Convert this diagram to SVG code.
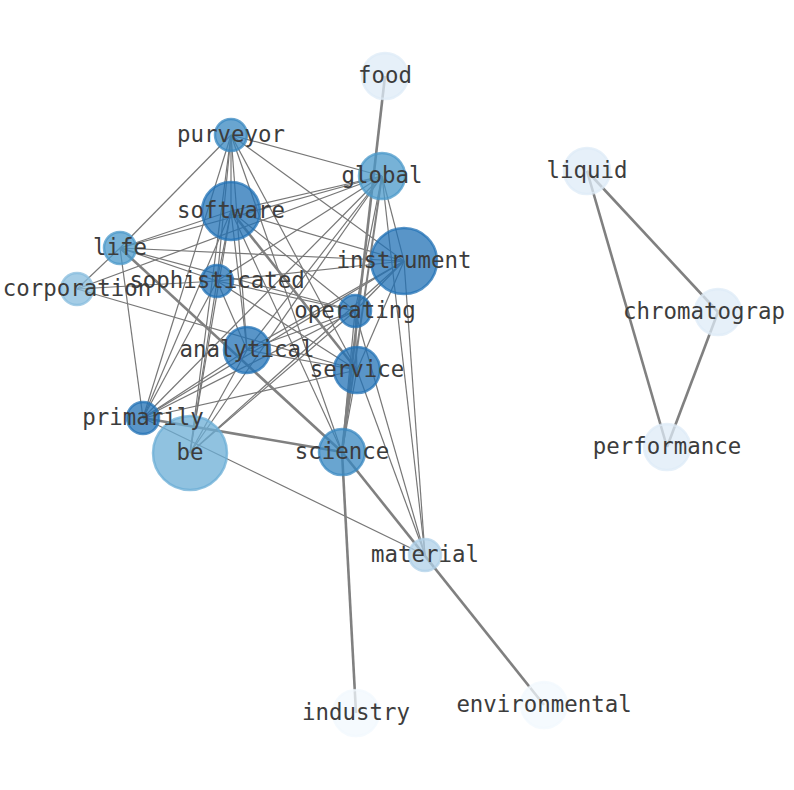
<svg xmlns="http://www.w3.org/2000/svg" width="794" height="790" viewBox="0 0 794 790">
<style>
.e{stroke:#777;stroke-width:1.2;fill:none}
.t{stroke:#808080;stroke-width:2.6;fill:none}
.n{fill-opacity:0.75;stroke-opacity:0.75;stroke-width:2.5}
.d{fill:#2171b5;stroke:#2171b5}
.m{fill:#3787c0;stroke:#3787c0}
.g{fill:#4a98c9;stroke:#4a98c9}
.b{fill:#6baed6;stroke:#6baed6}
.c{fill:#87bcdd;stroke:#87bcdd}
.mt{fill:#afd0e8;stroke:#afd0e8}
.l{fill:#deebf7;stroke:#deebf7}
.v{fill:#f2f8fd;stroke:#f2f8fd}
text{font-family:"DejaVu Sans Mono","Liberation Mono",monospace;font-size:22.4px;fill:#3c3c3c;text-anchor:middle}
</style>
<rect width="794" height="790" fill="#fff"/>
<g id="connectors">
<line class="e" x1="231" y1="135" x2="382" y2="176"/>
<line class="e" x1="231" y1="135" x2="404" y2="261"/>
<line class="e" x1="231" y1="135" x2="120" y2="248"/>
<line class="e" x1="231" y1="135" x2="231" y2="211"/>
<line class="e" x1="231" y1="135" x2="217" y2="281"/>
<line class="e" x1="231" y1="135" x2="247" y2="350"/>
<line class="e" x1="231" y1="135" x2="190" y2="453"/>
<line class="e" x1="231" y1="135" x2="143" y2="418"/>
<line class="e" x1="231" y1="135" x2="357" y2="370"/>
<line class="e" x1="231" y1="135" x2="342" y2="452"/>
<line class="e" x1="382" y1="176" x2="120" y2="248"/>
<line class="e" x1="382" y1="176" x2="231" y2="211"/>
<line class="e" x1="382" y1="176" x2="77" y2="289"/>
<line class="e" x1="382" y1="176" x2="404" y2="261"/>
<line class="e" x1="382" y1="176" x2="217" y2="281"/>
<line class="e" x1="382" y1="176" x2="247" y2="350"/>
<line class="e" x1="382" y1="176" x2="143" y2="418"/>
<line class="e" x1="382" y1="176" x2="190" y2="453"/>
<line class="e" x1="382" y1="176" x2="355" y2="311"/>
<line class="e" x1="382" y1="176" x2="425" y2="555"/>
<line class="e" x1="231" y1="211" x2="120" y2="248"/>
<line class="e" x1="231" y1="211" x2="404" y2="261"/>
<line class="e" x1="231" y1="211" x2="217" y2="281"/>
<line class="e" x1="231" y1="211" x2="247" y2="350"/>
<line class="e" x1="231" y1="211" x2="143" y2="418"/>
<line class="e" x1="231" y1="211" x2="190" y2="453"/>
<line class="e" x1="231" y1="211" x2="355" y2="311"/>
<line class="e" x1="231" y1="211" x2="342" y2="452"/>
<line class="e" x1="120" y1="248" x2="404" y2="261"/>
<line class="e" x1="120" y1="248" x2="77" y2="289"/>
<line class="e" x1="120" y1="248" x2="217" y2="281"/>
<line class="e" x1="120" y1="248" x2="355" y2="311"/>
<line class="e" x1="120" y1="248" x2="143" y2="418"/>
<line class="e" x1="77" y1="289" x2="217" y2="281"/>
<line class="e" x1="77" y1="289" x2="357" y2="370"/>
<line class="e" x1="404" y1="261" x2="217" y2="281"/>
<line class="e" x1="404" y1="261" x2="355" y2="311"/>
<line class="e" x1="404" y1="261" x2="247" y2="350"/>
<line class="e" x1="404" y1="261" x2="143" y2="418"/>
<line class="e" x1="404" y1="261" x2="190" y2="453"/>
<line class="e" x1="404" y1="261" x2="357" y2="370"/>
<line class="e" x1="404" y1="261" x2="425" y2="555"/>
<line class="e" x1="217" y1="281" x2="355" y2="311"/>
<line class="e" x1="217" y1="281" x2="247" y2="350"/>
<line class="e" x1="217" y1="281" x2="143" y2="418"/>
<line class="e" x1="217" y1="281" x2="190" y2="453"/>
<line class="e" x1="217" y1="281" x2="357" y2="370"/>
<line class="e" x1="355" y1="311" x2="247" y2="350"/>
<line class="e" x1="355" y1="311" x2="143" y2="418"/>
<line class="e" x1="355" y1="311" x2="190" y2="453"/>
<line class="e" x1="355" y1="311" x2="357" y2="370"/>
<line class="e" x1="355" y1="311" x2="425" y2="555"/>
<line class="e" x1="355" y1="311" x2="342" y2="452"/>
<line class="e" x1="247" y1="350" x2="143" y2="418"/>
<line class="e" x1="247" y1="350" x2="190" y2="453"/>
<line class="e" x1="247" y1="350" x2="357" y2="370"/>
<line class="e" x1="143" y1="418" x2="357" y2="370"/>
<line class="e" x1="143" y1="418" x2="425" y2="555"/>
<line class="e" x1="357" y1="370" x2="425" y2="555"/>
<line class="e" x1="357" y1="370" x2="342" y2="452"/>
<line class="t" x1="385" y1="76" x2="342" y2="452"/>
<line class="t" x1="382" y1="176" x2="342" y2="452" style="stroke-width:2"/>
<line class="t" x1="120" y1="248" x2="342" y2="452"/>
<line class="t" x1="231" y1="211" x2="357" y2="370"/>
<line class="t" x1="143" y1="418" x2="342" y2="452"/>
<line class="t" x1="342" y1="452" x2="356" y2="713"/>
<line class="t" x1="342" y1="452" x2="544" y2="705"/>
<line class="t" x1="587" y1="171" x2="718" y2="312"/>
<line class="t" x1="587" y1="171" x2="667" y2="447"/>
<line class="t" x1="718" y1="312" x2="667" y2="447"/>
</g>
<g id="node-be"><circle class="n b" cx="190" cy="453" r="37"/><text x="190" y="453" dy="0.33em">be</text></g>
<g id="node-food"><circle class="n l" cx="385" cy="76" r="23"/><text x="385" y="76" dy="0.33em">food</text></g>
<g id="node-purveyor"><circle class="n m" cx="231" cy="135" r="16"/><text x="231" y="135" dy="0.33em">purveyor</text></g>
<g id="node-global"><circle class="n g" cx="382" cy="176" r="23"/><text x="382" y="176" dy="0.33em">global</text></g>
<g id="node-software"><circle class="n d" cx="231" cy="211" r="29"/><text x="231" y="211" dy="0.33em">software</text></g>
<g id="node-life"><circle class="n g" cx="120" cy="248" r="16"/><text x="120" y="248" dy="0.33em">life</text></g>
<g id="node-instrument"><circle class="n d" cx="404" cy="261" r="33"/><text x="404" y="261" dy="0.33em">instrument</text></g>
<g id="node-corporation"><circle class="n c" cx="77" cy="289" r="16"/><text x="77" y="289" dy="0.33em">corporation</text></g>
<g id="node-sophisticated"><circle class="n d" cx="217" cy="281" r="16"/><text x="217" y="281" dy="0.33em">sophisticated</text></g>
<g id="node-operating"><circle class="n d" cx="355" cy="311" r="16"/><text x="355" y="311" dy="0.33em">operating</text></g>
<g id="node-analytical"><circle class="n d" cx="247" cy="350" r="23"/><text x="247" y="350" dy="0.33em">analytical</text></g>
<g id="node-service"><circle class="n d" cx="357" cy="370" r="23"/><text x="357" y="370" dy="0.33em">service</text></g>
<g id="node-primarily"><circle class="n d" cx="143" cy="418" r="16"/><text x="143" y="418" dy="0.33em">primarily</text></g>
<g id="node-science"><circle class="n m" cx="342" cy="452" r="23"/><text x="342" y="452" dy="0.33em">science</text></g>
<g id="node-material"><circle class="n mt" cx="425" cy="555" r="16"/><text x="425" y="555" dy="0.33em">material</text></g>
<g id="node-industry"><circle class="n v" cx="356" cy="713" r="23"/><text x="356" y="713" dy="0.33em">industry</text></g>
<g id="node-environmental"><circle class="n v" cx="544" cy="705" r="23"/><text x="544" y="705" dy="0.33em">environmental</text></g>
<g id="node-liquid"><circle class="n l" cx="587" cy="171" r="23"/><text x="587" y="171" dy="0.33em">liquid</text></g>
<g id="node-chromatograp"><circle class="n l" cx="718" cy="312" r="23"/><text x="704" y="312" dy="0.33em">chromatograp</text></g>
<g id="node-performance"><circle class="n l" cx="667" cy="447" r="23"/><text x="667" y="447" dy="0.33em">performance</text></g>
</svg>
